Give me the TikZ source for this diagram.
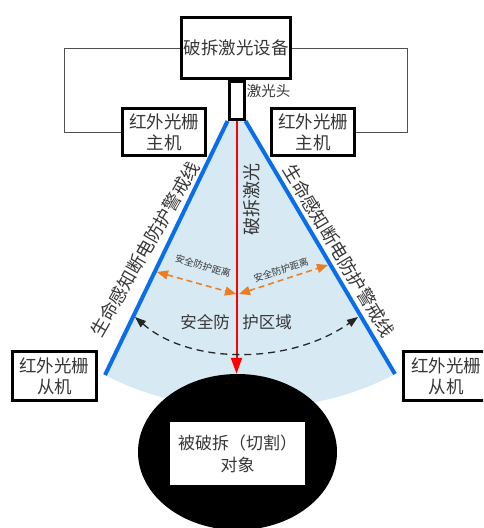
\documentclass[tikz,border=0pt]{standalone}
\usepackage{fontspec}
\newfontfamily\cjk{Noto Sans CJK SC}
\usetikzlibrary{arrows.meta,shapes.geometric}
\definecolor{fanblue}{RGB}{215,233,242}
\definecolor{edgeblue}{RGB}{10,110,235}
\definecolor{arrorange}{RGB}{235,125,35}
\definecolor{txt}{RGB}{55,55,55}
\definecolor{wire}{RGB}{80,80,80}
\begin{document}
\begin{tikzpicture}[x=1pt,y=-1pt,
  box/.style={draw=black, line width=3pt, fill=white, text=txt, align=center, inner sep=0pt, font=\cjk\fontsize{17.5}{21}\selectfont},
  lbl/.style={text=txt, inner sep=0pt, font=\cjk\fontsize{18}{21}\selectfont},
  smalllbl/.style={text=txt, inner sep=0pt, font=\cjk\fontsize{14.5}{17}\selectfont},
  tinylbl/.style={text=txt, inner sep=0pt, font=\cjk\fontsize{9.5}{11}\selectfont},
  midlbl/.style={text=txt, inner sep=0pt, font=\cjk\fontsize{16.5}{19}\selectfont},
  wireline/.style={draw=wire, line width=1pt},
  edgeline/.style={draw=edgeblue, line width=4pt},
  beamline/.style={draw=red, line width=2pt, -{Triangle[length=16pt,width=11pt]}},
  distarrow/.style={draw=arrorange, line width=1.5pt, dash pattern=on 6pt off 4pt, {Triangle[length=11pt,width=9pt]}-{Triangle[length=11pt,width=9pt]}},
  zonearrow/.style={draw=black!85, line width=1.3pt, dash pattern=on 7pt off 5pt, {Triangle[length=11pt,width=8pt]}-{Triangle[length=11pt,width=8pt]}}
]
\clip (0,0) rectangle (483,528);
\useasboundingbox (0,0) rectangle (483,528);

% coordinates
\coordinate (bl) at (105,375);
\coordinate (br) at (395,374);
\coordinate (cl) at (64,48);
\coordinate (cr) at (407,48);
\coordinate (ol) at (157,272);
\coordinate (oc1) at (236,294);
\coordinate (oc2) at (239,294);
\coordinate (or) at (328,265);
\coordinate (dl1) at (135,317);
\coordinate (dr1) at (358,317);

% laser head (drawn first for anchors)
\node[draw=black, line width=3pt, fill=white, minimum width=15pt, minimum height=38pt, inner sep=0pt] (head) at (236.5,100.5) {};

% fan
\fill[fanblue] (head.south west) -- (bl) .. controls (190,420) and (310,420) .. (br) -- (head.south east) -- cycle;

% object
\node[ellipse, fill=black, minimum width=199pt, minimum height=156pt, inner sep=0pt] (obj) at (237.5,452) {};
\node[fill=white, minimum width=135pt, minimum height=63pt, inner sep=0pt, align=center, text=txt, font=\cjk\fontsize{17}{22}\selectfont] (objtxt) at (237.5,453.5) {被破拆（切割）\\对象};

% edges
\draw[edgeline] (head.south west) -- (bl);
\draw[edgeline] (head.south east) -- (br);

% beam
\draw[beamline] (head.south) -- (obj.north -| head.south);

% distance arrows
\draw[distarrow] (ol) -- (oc1);
\draw[distarrow] (oc2) -- (or);
\draw[zonearrow] (dl1) .. controls (190,365) and (290,365) .. (dr1);

% boxes
\node[box, minimum width=109pt, minimum height=61pt] (top) at (236,48) {破拆激光设备};
\node[draw=black, line width=3pt, fill=white, minimum width=15pt, minimum height=38pt, inner sep=0pt] (head2) at (236.5,100.5) {};
\node[box, minimum width=83pt, minimum height=47pt] (lh) at (164,132) {红外光栅\\主机};
\node[box, minimum width=83pt, minimum height=47pt] (rh) at (313,132) {红外光栅\\主机};
\node[box, minimum width=84pt, minimum height=49pt] (ls) at (54.5,376) {红外光栅\\从机};
\node[box, minimum width=85pt, minimum height=49pt] (rs) at (446,376) {红外光栅\\从机};

% wires
\draw[wireline] (top.west) -- (cl) |- (lh.west);
\draw[wireline] (top.east) -- (cr) |- (rh.east);

% labels
\node[smalllbl] (headlbl) at (268.5,91) {激光头};
\node[lbl, rotate=60] (wl) at (145,249) {生命感知断电防护警戒线};
\node[lbl, rotate=-59] (wr) at (339,251) {生命感知断电防护警戒线};
\node[lbl, rotate=90] (beamlbl) at (252,199) {破拆激光};
\node[tinylbl, rotate=-16] (dlt) at (203,266) {安全防护距离};
\node[tinylbl, rotate=18] (drt) at (281,270) {安全防护距离};
\node[midlbl] (z1) at (205,322) {安全防};
\node[midlbl] (z2) at (267,322) {护区域};
\end{tikzpicture}
\end{document}
